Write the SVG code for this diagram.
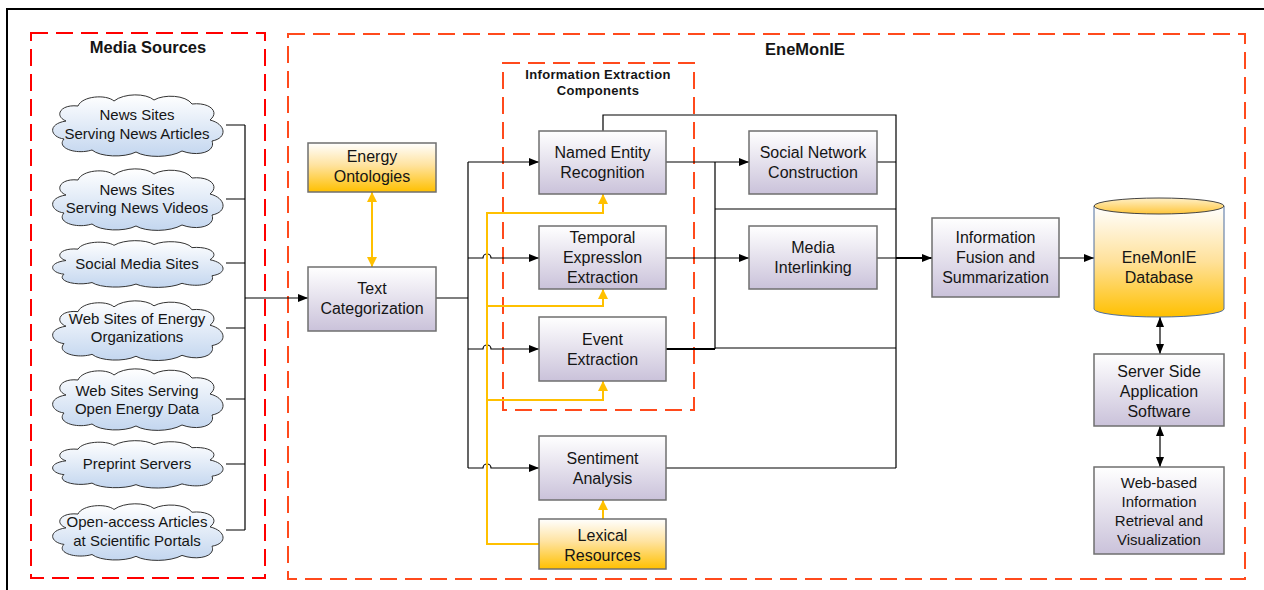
<svg xmlns="http://www.w3.org/2000/svg" xmlns:xlink="http://www.w3.org/1999/xlink" width="1264" height="590" viewBox="0 0 1264 590">
<style>
text{font-family:"Liberation Sans",Arial,sans-serif;fill:#151515;text-anchor:middle}
.t{font-size:16px}
.c{font-size:15px}
.s{font-size:15px}
.h{font-size:16.5px;font-weight:bold}
.hs{font-size:13px;font-weight:bold}
.box{fill:url(#gBox);stroke:#6f6f6f;stroke-width:1.5}
.obox{fill:url(#gOr);stroke:#6f6f6f;stroke-width:1.5}
.cl{fill:url(#gCl);stroke:#333;stroke-width:1}
.k{fill:none;stroke:#000;stroke-width:1.2}
.kt{fill:none;stroke:#000;stroke-width:2}
.y{fill:none;stroke:#FFC000;stroke-width:2}
.dr{fill:none;stroke:#FF0000;stroke-width:2;stroke-dasharray:17 8}
.do{fill:none;stroke:#FF4A1C;stroke-width:2;stroke-dasharray:17 8}
</style>
<defs>
<linearGradient id="gBox" x1="0" y1="0" x2="0" y2="1"><stop offset="0" stop-color="#FFFFFF"/><stop offset="1" stop-color="#CAC2DA"/></linearGradient>
<linearGradient id="gOr" x1="0" y1="0" x2="0" y2="1"><stop offset="0" stop-color="#FFFFFF"/><stop offset="0.45" stop-color="#FFE3A0"/><stop offset="1" stop-color="#FFC000"/></linearGradient>
<linearGradient id="gCl" x1="0" y1="0" x2="0" y2="1"><stop offset="0" stop-color="#FFFFFF"/><stop offset="1" stop-color="#C3D6EF"/></linearGradient>
<linearGradient id="gDb" x1="0" y1="0" x2="0" y2="1"><stop offset="0" stop-color="#FFFFFF"/><stop offset="0.5" stop-color="#FFE19A"/><stop offset="1" stop-color="#FFC000"/></linearGradient>
<linearGradient id="gDbTop" x1="0" y1="0" x2="0" y2="1"><stop offset="0" stop-color="#FFF0C8"/><stop offset="1" stop-color="#FFC63A"/></linearGradient>
<path id="cloud" vector-effect="non-scaling-stroke" d="M18,27 C6,22 12,10 30,12 C34,2 58,0 66,7 C76,-1 98,-1 106,6 C116,0 138,1 144,10 C162,8 172,18 162,26 C178,30 180,44 164,47 C168,58 150,63 134,57 C122,64 98,64 88,58 C76,64 52,63 44,56 C28,61 8,54 16,45 C2,43 -1,30 18,27 Z"/>
<marker id="ak" viewBox="0 0 10 8" refX="10" refY="4" markerWidth="10" markerHeight="8" markerUnits="userSpaceOnUse" orient="auto-start-reverse"><path d="M0,0 L10,4 L0,8 Z" fill="#000"/></marker>
<marker id="ay" viewBox="0 0 10 10" refX="10" refY="5" markerWidth="10" markerHeight="10" markerUnits="userSpaceOnUse" orient="auto-start-reverse"><path d="M0,0 L10,5 L0,10 Z" fill="#FFC000"/></marker>
</defs>

<rect width="1264" height="590" fill="#fff"/>
<path d="M7,590 V9 H1264" fill="none" stroke="#000" stroke-width="2"/>

<g id="containers">
<rect class="dr" x="31" y="33" width="234" height="545"/>
<rect class="do" x="288" y="34" width="957" height="545"/>
<rect class="do" x="503" y="63" width="191" height="347"/>
<text class="h" x="148" y="53">Media Sources</text>
<text class="h" x="805" y="55">EneMonIE</text>
<text class="hs" x="598" y="79" letter-spacing="0.3">Information Extraction</text>
<text class="hs" x="598" y="95" letter-spacing="0.3">Components</text>
</g>

<g id="connectors">
<path class="k" d="M226,125 H245 M226,199 H245 M226,263 H245 M226,328 H245 M226,399 H245 M226,464 H245 M226,530 H245 M245,125 V530"/>
<path class="k" d="M245,298 H308" marker-end="url(#ak)"/>
<path class="k" d="M436,298 H468 M468,162 V468"/>
<path class="k" d="M468,162 H539" marker-end="url(#ak)"/>
<path class="k" d="M468,258 H483 A4,4 0 0 1 491,258 H539" marker-end="url(#ak)"/>
<path class="k" d="M468,349 H483 A4,4 0 0 1 491,349 H539" marker-end="url(#ak)"/>
<path class="k" d="M468,468 H483 A4,4 0 0 1 491,468 H539" marker-end="url(#ak)"/>
<path class="k" d="M603,131 V115 H896 V468"/>
<path class="k" d="M666,162 H749" marker-end="url(#ak)"/>
<path class="k" d="M715,162 V349 M715,209 H896"/>
<path class="k" d="M666,258 H749" marker-end="url(#ak)"/>
<path class="kt" d="M666,349 H715"/>
<path class="k" d="M715,348 H896 M666,468 H896 M877,162 H896 M877,258 H896"/>
<path class="kt" d="M896,258 H932" marker-end="url(#ak)"/>
<path class="k" d="M1059,258 H1094" marker-end="url(#ak)"/>
<path class="k" d="M1160,317 V354" marker-start="url(#ak)" marker-end="url(#ak)"/>
<path class="k" d="M1160,426 V467" marker-start="url(#ak)" marker-end="url(#ak)"/>
<path class="y" d="M372,192 V267" marker-start="url(#ay)" marker-end="url(#ay)"/>
<path class="y" d="M603,213 H487 V544 H539"/>
<path class="y" d="M487,213 H603 V194" marker-end="url(#ay)"/>
<path class="y" d="M487,306 H603 V289" marker-end="url(#ay)"/>
<path class="y" d="M487,400 H603 V381" marker-end="url(#ay)"/>
<path class="y" d="M603,519 V500" marker-end="url(#ay)"/>
</g>

<g id="src-news-articles">
<use xlink:href="#cloud" class="cl" transform="translate(48,94) scale(1,1)"/>
<text class="c" x="137" y="120">News Sites</text>
<text class="c" x="137" y="139">Serving News Articles</text>
</g>
<g id="src-news-videos">
<use xlink:href="#cloud" class="cl" transform="translate(48,168) scale(1,1)"/>
<text class="c" x="137" y="195">News Sites</text>
<text class="c" x="137" y="213">Serving News Videos</text>
</g>
<g id="src-social-media">
<use xlink:href="#cloud" class="cl" transform="translate(48,240) scale(1,0.76)"/>
<text class="c" x="137" y="269">Social Media Sites</text>
</g>
<g id="src-energy-orgs">
<use xlink:href="#cloud" class="cl" transform="translate(48,300) scale(1,0.97)"/>
<text class="c" x="137" y="324">Web Sites of Energy</text>
<text class="c" x="137" y="342">Organizations</text>
</g>
<g id="src-open-data">
<use xlink:href="#cloud" class="cl" transform="translate(48,368) scale(1,1)"/>
<text class="c" x="137" y="396">Web Sites Serving</text>
<text class="c" x="137" y="414">Open Energy Data</text>
</g>
<g id="src-preprint">
<use xlink:href="#cloud" class="cl" transform="translate(48,440) scale(1,0.77)"/>
<text class="c" x="137" y="469">Preprint Servers</text>
</g>
<g id="src-open-access">
<use xlink:href="#cloud" class="cl" transform="translate(48,503) scale(1,0.92)"/>
<text class="c" x="137" y="527">Open-access Articles</text>
<text class="c" x="137" y="546">at Scientific Portals</text>
</g>

<g id="energy-ontologies">
<rect class="obox" x="308" y="143" width="128" height="49"/>
<text class="t" x="372" y="162">Energy</text>
<text class="t" x="372" y="182">Ontologies</text>
</g>
<g id="text-categorization">
<rect class="box" x="308" y="267" width="128" height="64"/>
<text class="t" x="372" y="294">Text</text>
<text class="t" x="372" y="314">Categorization</text>
</g>
<g id="ner">
<rect class="box" x="539" y="131" width="127" height="63"/>
<text class="t" x="602.5" y="158">Named Entity</text>
<text class="t" x="602.5" y="178">Recognition</text>
</g>
<g id="temporal">
<rect class="box" x="539" y="226" width="127" height="63"/>
<text class="t" x="602.5" y="243">Temporal</text>
<text class="t" x="602.5" y="263">Expresslon</text>
<text class="t" x="602.5" y="283">Extraction</text>
</g>
<g id="event">
<rect class="box" x="539" y="317" width="127" height="64"/>
<text class="t" x="602.5" y="345">Event</text>
<text class="t" x="602.5" y="365">Extraction</text>
</g>
<g id="sentiment">
<rect class="box" x="539" y="436" width="127" height="64"/>
<text class="t" x="602.5" y="464">Sentiment</text>
<text class="t" x="602.5" y="484">Analysis</text>
</g>
<g id="lexical">
<rect class="obox" x="539" y="519" width="127" height="50"/>
<text class="t" x="602.5" y="541">Lexical</text>
<text class="t" x="602.5" y="561">Resources</text>
</g>
<g id="social-network">
<rect class="box" x="749" y="131" width="128" height="63"/>
<text class="t" x="813" y="158">Social Network</text>
<text class="t" x="813" y="178">Construction</text>
</g>
<g id="media-interlinking">
<rect class="box" x="749" y="226" width="128" height="63"/>
<text class="t" x="813" y="253">Media</text>
<text class="t" x="813" y="273">Interlinking</text>
</g>
<g id="info-fusion">
<rect class="box" x="932" y="218" width="127" height="79"/>
<text class="t" x="995.5" y="243">Information</text>
<text class="t" x="995.5" y="263">Fusion and</text>
<text class="t" x="995.5" y="283">Summarization</text>
</g>
<g id="database">
<path d="M1094,206 V309 A65,8 0 0 0 1224,309 V206 Z" fill="url(#gDb)" stroke="#4F6E9E" stroke-width="1"/>
<ellipse cx="1159" cy="206" rx="65" ry="8" fill="url(#gDbTop)" stroke="#444" stroke-width="1"/>
<text class="t" x="1159" y="263">EneMonIE</text>
<text class="t" x="1159" y="283">Database</text>
</g>
<g id="server-side">
<rect class="box" x="1094" y="354" width="130" height="72"/>
<text class="t" x="1159" y="377">Server Side</text>
<text class="t" x="1159" y="397">Application</text>
<text class="t" x="1159" y="417">Software</text>
</g>
<g id="web-retrieval">
<rect class="box" x="1094" y="467" width="130" height="87"/>
<text class="s" x="1159" y="488">Web-based</text>
<text class="s" x="1159" y="507">Information</text>
<text class="s" x="1159" y="526">Retrieval and</text>
<text class="s" x="1159" y="545">Visualization</text>
</g>
</svg>
